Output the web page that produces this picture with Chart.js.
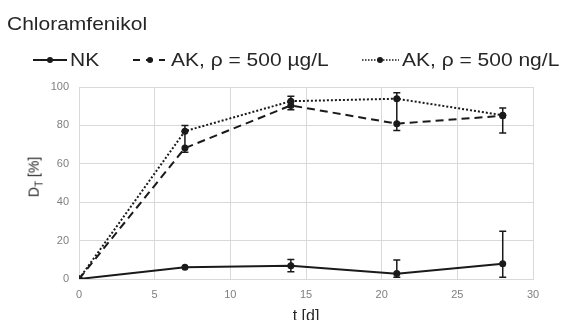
<!DOCTYPE html>
<html>
<head>
<meta charset="utf-8">
<script src="https://cdn.jsdelivr.net/npm/chart.js@4"></script>
<style>
body { margin: 0; background: #fff; }
#wrap { position: relative; width: 563px; height: 320px; overflow: hidden; font-family: 'Liberation Sans', Arial, sans-serif; color: #262626; }
#wrap canvas { position: absolute; left: 0; top: 0; }
.txt { position: absolute; white-space: nowrap; line-height: 1; transform-origin: 0 100%; }
.big { font-size: 21px; transform: scaleY(0.87); }
.sym { position: absolute; }
#ytitle { position: absolute; font-size: 14px; white-space: nowrap; left: 35px; top: 177px; transform: translate(-50%, -50%) rotate(-90deg); }
#xtitle { position: absolute; font-size: 16px; white-space: nowrap; left: 306px; top: 307px; transform: translateX(-50%); }
</style>
</head>
<body>
<div id="wrap">
  <canvas id="chart" width="563" height="320"></canvas>
  <div class="txt big" style="left:7px; top:12px;">Chloramfenikol</div>

  <svg class="sym" style="left:32px; top:54px;" width="36" height="12">
    <line x1="1" y1="6" x2="35" y2="6" stroke="#1a1a1a" stroke-width="2"/>
    <circle cx="18" cy="6" r="3" fill="#1a1a1a"/>
  </svg>
  <div class="txt big" style="left:70px; top:48px;">NK</div>

  <svg class="sym" style="left:132px; top:54px;" width="36" height="12">
    <line x1="1" y1="6" x2="33" y2="6" stroke="#1a1a1a" stroke-width="2" stroke-dasharray="7,6"/>
    <circle cx="18" cy="6" r="3" fill="#1a1a1a"/>
  </svg>
  <div class="txt big" style="left:171px; top:48px;">AK, ρ = 500 µg/L</div>

  <svg class="sym" style="left:362px; top:54px;" width="38" height="12">
    <line x1="0" y1="6" x2="37" y2="6" stroke="#1a1a1a" stroke-width="1.5" stroke-dasharray="1.5,1.5"/>
    <circle cx="18" cy="6" r="3" fill="#1a1a1a"/>
  </svg>
  <div class="txt big" style="left:402px; top:48px;">AK, ρ = 500 ng/L</div>

  <div id="ytitle">D<sub style="font-size:10px;">T</sub> [%]</div>
  <div id="xtitle">t [d]</div>
</div>
<script>
// time points and measured values
const days = [0, 7, 14, 21, 28];
const nkValues = [0, 6.1, 6.9, 2.8, 8.0];
const akUgValues = [0, 68.2, 90.4, 80.9, 85.0];
const akNgValues = [0, 77.0, 92.6, 93.9, 85.3];

// error bars (up / down)
const nkErrUp = [0, 0, 3.3, 7.1, 16.9];
const nkErrDown = [0, 0, 3.1, 1.9, 7.1];
const akUgErrUp = [0, 8.8, 2.2, 13.0, 0.3];
const akUgErrDown = [0, 2.2, 2.2, 3.5, 9.0];
const akNgErrUp = [0, 3.0, 2.6, 3.1, 3.7];
const akNgErrDown = [0, 0, 0, 0, 0];

const xTicks = [0, 5, 10, 15, 20, 25, 30];
const yTicks = [0, 20, 40, 60, 80, 100];

const ink = '#1a1a1a';
const grid = '#d9d9d9';

function points(vals) {
    return days.map((d, i) => ({ x: d, y: vals[i] }));
}

var errorBars = {
    id: 'errorBars',
    beforeDatasetsDraw(chart) {
        const ctx = chart.ctx;
        const area = chart.chartArea;
        const x = chart.scales.x, y = chart.scales.y;
        ctx.save();
        ctx.beginPath();
        ctx.rect(area.left, area.top - 1, area.right - area.left, area.bottom - area.top + 1);
        ctx.clip();
        ctx.strokeStyle = ink;
        ctx.lineWidth = 1.5;
        chart.data.datasets.forEach(ds => {
            ds.data.forEach((p, i) => {
                const up = ds.errUp[i], down = ds.errDown[i];
                if (!up && !down) return;
                const px = x.getPixelForValue(p.x);
                const top = y.getPixelForValue(p.y + up);
                const bot = y.getPixelForValue(p.y - down);
                ctx.beginPath();
                ctx.moveTo(px, top);
                ctx.lineTo(px, bot);
                if (up) { ctx.moveTo(px - 3.5, top); ctx.lineTo(px + 3.5, top); }
                if (down) { ctx.moveTo(px - 3.5, bot); ctx.lineTo(px + 3.5, bot); }
                ctx.stroke();
            });
        });
        ctx.restore();
    }
};

function series(label, vals, up, down, dash, width) {
    return {
        label: label,
        data: points(vals),
        errUp: up,
        errDown: down,
        showLine: true,
        borderColor: ink,
        backgroundColor: ink,
        borderWidth: width,
        borderDash: dash,
        pointRadius: 3.5,
        pointBorderWidth: 0,
        pointBackgroundColor: ink,
        tension: 0
    };
}

var ctx = document.getElementById('chart').getContext('2d');
var myChart = new Chart(ctx, {
    type: 'scatter',
    data: {
        datasets: [
            series('NK', nkValues, nkErrUp, nkErrDown, [], 2),
            series('AK, ρ = 500 µg/L', akUgValues, akUgErrUp, akUgErrDown, [8, 5], 2),
            series('AK, ρ = 500 ng/L', akNgValues, akNgErrUp, akNgErrDown, [2, 2], 2)
        ]
    },
    options: {
        responsive: false,
        animation: false,
        layout: { padding: { left: 0, right: 30, top: 87, bottom: 0 } },
        plugins: { legend: { display: false }, tooltip: { enabled: false } },
        scales: {
            x: {
                type: 'linear',
                min: 0,
                max: 30,
                afterBuildTicks: s => { s.ticks = xTicks.map(v => ({ value: v })); },
                afterFit: s => { s.height = 41; },
                grid: { color: grid, drawTicks: false },
                border: { color: grid },
                ticks: { color: '#7f7f7f', padding: 9, font: { family: 'Liberation Sans', size: 11 } }
            },
            y: {
                type: 'linear',
                min: 0,
                max: 100,
                afterBuildTicks: s => { s.ticks = yTicks.map(v => ({ value: v })); },
                afterFit: s => { s.width = 79; },
                grid: { color: grid, drawTicks: false },
                border: { color: grid },
                ticks: { color: '#7f7f7f', padding: 10, font: { family: 'Liberation Sans', size: 11 } }
            }
        }
    },
    plugins: [errorBars]
});
</script>
</body>
</html>
